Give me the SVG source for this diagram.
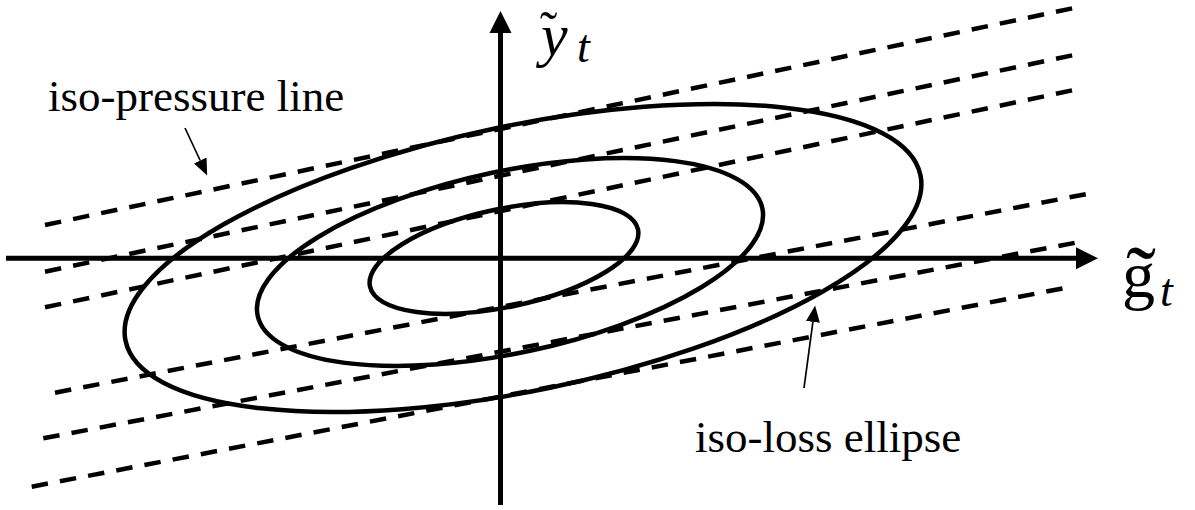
<svg xmlns="http://www.w3.org/2000/svg" width="1195" height="510" viewBox="0 0 1195 510">
<style>
.axis{stroke:#000;stroke-width:5;fill:none}
.ell{stroke:#000;stroke-width:4.5;fill:none}
.dash{stroke:#000;stroke-width:4.5;fill:none;stroke-dasharray:16.5 12.2}
.thin{stroke:#000;stroke-width:1.7;fill:none}
.lbl{font-family:"Liberation Serif","Times New Roman",serif;font-size:45px;fill:#000}
.math{font-family:"Liberation Serif","Times New Roman",serif;fill:#000}
</style>
<defs>
<marker id="big" markerUnits="userSpaceOnUse" markerWidth="23" markerHeight="23" refX="0" refY="11" orient="auto" viewBox="0 0 23 22">
<path d="M0,0 L22,11 L0,22 z" fill="#000"/>
</marker>
<marker id="small" markerUnits="userSpaceOnUse" markerWidth="17" markerHeight="15" refX="0" refY="7.5" orient="auto" viewBox="0 0 17 15">
<path d="M0,0.5 L16.5,7.5 L0,14.5 z" fill="#000"/>
</marker>
</defs>
<rect width="1195" height="510" fill="#fff"/>
<g id="iso-pressure-lines">
<line class="dash" x1="45" y1="225" x2="1074" y2="8"/>
<line class="dash" x1="45" y1="271.7" x2="1074" y2="55"/>
<line class="dash" x1="45" y1="307.3" x2="1074" y2="90"/>
<line class="dash" x1="55" y1="392.7" x2="1086.7" y2="194"/>
<line class="dash" x1="43.3" y1="438.3" x2="1075.7" y2="242.7"/>
<line class="dash" x1="31.7" y1="486.7" x2="1063.3" y2="288.3"/>
</g>
<g id="iso-loss-ellipses">
<ellipse class="ell" cx="523" cy="258" rx="406" ry="132.6" transform="rotate(-11.77 523 258)"/>
<ellipse class="ell" cx="510" cy="262" rx="258" ry="91" transform="rotate(-12 510 262)"/>
<ellipse class="ell" cx="504" cy="258" rx="137" ry="49" transform="rotate(-12 504 258)"/>
</g>
<g id="axes">
<line class="axis" x1="6" y1="258.3" x2="1076" y2="258.3" marker-end="url(#big)"/>
<line class="axis" x1="500.5" y1="505" x2="500.5" y2="33" marker-end="url(#big)"/>
</g>
<g id="connectors">
<line class="thin" x1="185" y1="128" x2="200.2" y2="160.5" marker-end="url(#small)"/>
<line class="thin" x1="804" y1="388" x2="812.9" y2="321.9" marker-end="url(#small)"/>
</g>
<g id="label-iso-pressure">
<text class="lbl" x="48" y="111">iso-pressure line</text>
</g>
<g id="label-iso-loss">
<text class="lbl" x="695" y="452">iso-loss ellipse</text>
</g>
<g id="label-y">
<text class="math"><tspan x="541" y="55" font-size="60" font-style="italic">y</tspan><tspan x="540" y="48" font-size="52">˜</tspan><tspan x="577" y="62" font-size="46" font-style="italic">t</tspan></text>
</g>
<g id="label-g">
<text class="math"><tspan x="1122" y="297" font-size="66">g</tspan><tspan x="1126" y="309" font-size="90">˜</tspan><tspan x="1160" y="306" font-size="46" font-style="italic">t</tspan></text>
</g>
</svg>
